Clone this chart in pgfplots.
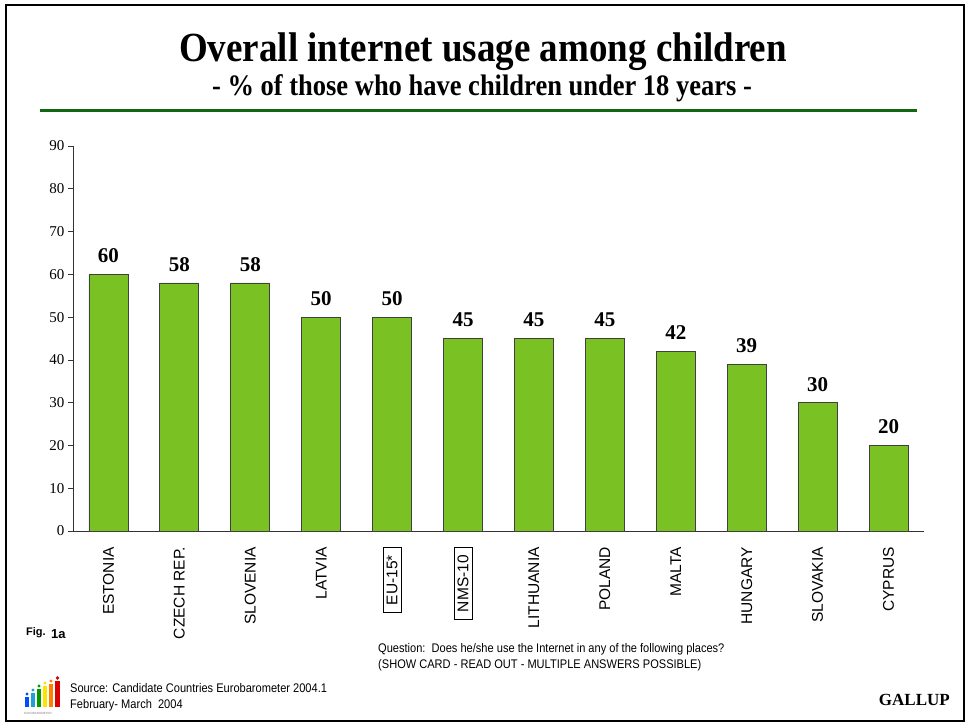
\documentclass[border=0pt]{standalone}
\usepackage{pgfplots}
\pgfplotsset{compat=1.18}
\usepackage{fontspec}
\setmainfont{Liberation Serif}
\setsansfont{Liberation Sans}
\definecolor{barg}{RGB}{122,194,36}
\definecolor{lineg}{RGB}{18,104,18}
\setlength\fboxrule{1pt}
\setlength\fboxsep{3pt}
\newcommand{\bx}[1]{\fbox{\hspace{4pt}#1\hspace{4pt}}}
\begin{document}
\begin{tikzpicture}[x=1pt,y=1pt]
\path[use as bounding box] (0,0) rectangle (968,-725);
\draw[line width=2pt] (6,-5) rectangle (964,-721);
\node[anchor=base] at (483,-62) {\scalebox{1}[1.12]{\bfseries\fontsize{37}{37}\selectfont Overall internet usage among children}};
\node[anchor=base] at (482,-95) {\scalebox{1}[1.12]{\bfseries\fontsize{26.5}{26.5}\selectfont - \% of those who have children under 18 years -}};
\draw[lineg, line width=3pt] (40,-110) -- (917,-110);
\begin{axis}[
  at={(73pt,-531pt)}, anchor=south west,
  scale only axis, width=851pt, height=385pt,
  xmin=-0.5, xmax=11.5, ymin=0, ymax=90,
  axis x line=bottom, axis y line=left,
  axis line style={-, black!80, line width=0.8pt},
  ytick={0,10,...,90}, tick align=outside, major tick length=5pt,
  major y tick style={black!80, line width=0.8pt},
  xtick={0,...,11},
  xticklabels={ESTONIA, CZECH REP., SLOVENIA, LATVIA, \bx{EU-15*}, \bx{NMS-10}, LITHUANIA, POLAND, MALTA, HUNGARY, SLOVAKIA, CYPRUS},
  major x tick style={draw=none},
  /pgf/number format/assume math mode=true,
  yticklabel style={font=\fontsize{15}{15}\selectfont},
  xticklabel style={font=\sffamily\fontsize{15.5}{15.5}\selectfont, rotate=90, anchor=east, inner sep=0pt},
  xticklabel shift=11pt,
  ybar, bar width=39pt,
  nodes near coords,
  nodes near coords style={font=\bfseries\fontsize{21}{21}\selectfont, anchor=south, inner sep=0pt, yshift=11pt},
  clip=false,
]
\addplot[fill=barg, draw=black!75, line width=0.8pt] coordinates {
(0,60) (1,58) (2,58) (3,50) (4,50) (5,45) (6,45) (7,45) (8,42) (9,39) (10,30) (11,20)};
\end{axis}
% footer
\node[anchor=base west, inner sep=0pt] at (26,-635) {\sffamily\bfseries\fontsize{11}{11}\selectfont Fig.};
\node[anchor=base west, inner sep=0pt] at (51,-638) {\sffamily\bfseries\fontsize{13}{13}\selectfont 1a};
\node[anchor=base west, inner sep=0pt] at (378,-652) {\scalebox{0.885}[1]{\sffamily\fontsize{12.5}{12.5}\selectfont Question:\ \ Does he/she use the Internet in any of the following places?}};
\node[anchor=base west, inner sep=0pt] at (378,-668) {\scalebox{0.885}[1]{\sffamily\fontsize{12.5}{12.5}\selectfont (SHOW CARD - READ OUT - MULTIPLE ANSWERS POSSIBLE)}};
\node[anchor=base west, inner sep=0pt] at (70,-692) {\scalebox{0.885}[1]{\sffamily\fontsize{12.5}{12.5}\selectfont Source: Candidate Countries Eurobarometer 2004.1}};
\node[anchor=base west, inner sep=0pt] at (70,-708) {\scalebox{0.885}[1]{\sffamily\fontsize{12.5}{12.5}\selectfont February- March\ \ 2004}};
\node[anchor=base east, inner sep=0pt] at (950,-705) {\bfseries\fontsize{17}{17}\selectfont GALLUP};
% logo
\fill[blue!70!cyan] (25,-707) rectangle (29,-697);
\fill[cyan!70!teal] (31,-707) rectangle (35,-693);
\fill[green!60!black] (37,-707) rectangle (41,-689);
\fill[yellow!85!orange] (43,-707) rectangle (47,-686);
\fill[orange] (49,-707) rectangle (53,-684);
\fill[red!85!black] (55,-707) rectangle (60,-681);
\fill[blue!70!cyan] (27,-694) circle (1.6);
\fill[cyan!70!teal] (33,-690) circle (1.6);
\fill[green!60!black] (39,-686) circle (1.6);
\fill[yellow!85!orange] (45,-683) circle (1.6);
\fill[orange] (51,-681) circle (1.6);
\fill[red!85!black] (57.5,-678) circle (1.8);
\node[anchor=base west, inner sep=0pt, gray] at (24,-714) {\sffamily\fontsize{3}{3}\selectfont EUROBAROMETER};
\end{tikzpicture}
\end{document}
